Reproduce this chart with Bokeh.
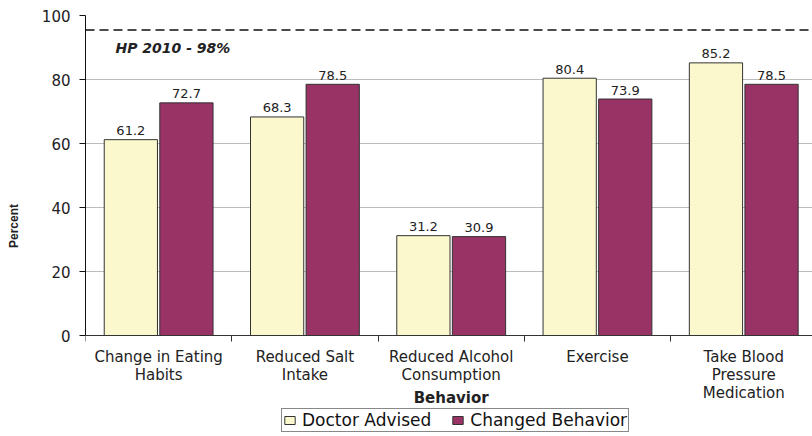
from bokeh.plotting import figure
from bokeh.models import (ColumnDataSource, Range1d, FixedTicker, Span, Label,
                          Legend, LegendItem)
from bokeh.core.properties import value
from bokeh.embed import file_html
from bokeh.resources import INLINE

categories = ["Change in Eating\nHabits", "Reduced Salt\nIntake",
              "Reduced Alcohol\nConsumption", "Exercise",
              "Take Blood\nPressure\nMedication"]
doctor_advised = [61.2, 68.3, 31.2, 80.4, 85.2]
changed_behavior = [72.7, 78.5, 30.9, 73.9, 78.5]
series_names = ["Doctor Advised", "Changed Behavior"]
y_ticks = [0, 20, 40, 60, 80, 100]
hp_target_line = 95.5
hp_text = "HP 2010 - 98%"

FONT = "DejaVu Sans"
VFONT = "Liberation Sans"
YELLOW = "#FBF8CE"
MAROON = "#993366"

centers = [i + 0.5 for i in range(len(categories))]
src_a = ColumnDataSource(dict(x=[c - 0.19 for c in centers], top=doctor_advised,
                              lab=[f"{v:.1f}" for v in doctor_advised]))
src_b = ColumnDataSource(dict(x=[c + 0.19 for c in centers], top=changed_behavior,
                              lab=[f"{v:.1f}" for v in changed_behavior]))

# frame spans down to the page bottom; the category axis sits at y = 0
p = figure(frame_width=727, frame_height=421, output_backend="svg",
           toolbar_location=None,
           x_range=Range1d(0, 4.97), y_range=Range1d(-31.5625, 100),
           min_border_left=85, min_border_top=15, min_border_right=0,
           min_border_bottom=0)
p.outline_line_color = None
p.xgrid.grid_line_color = None
p.ygrid.grid_line_color = "#BBBBBB"
p.ygrid.ticker = FixedTicker(ticks=y_ticks)

r_a = p.vbar(x="x", top="top", width=0.364, bottom=0, source=src_a,
             fill_color=YELLOW, line_color="#333333", line_width=1)
r_b = p.vbar(x="x", top="top", width=0.364, bottom=0, source=src_b,
             fill_color=MAROON, line_color="#333333", line_width=1)

for s in (src_a, src_b):
    p.text(x="x", y="top", text="lab", source=s, text_align="center",
           text_baseline="alphabetic", y_offset=-9, text_font=value(FONT),
           text_font_size="13px", text_color="#222222")

p.add_layout(Span(location=hp_target_line, dimension="width", line_color="#111111",
                  line_dash="9 5", line_width=1.5))
p.add_layout(Label(x=0.205, y=89.7, text=hp_text, text_font=FONT,
                   text_font_size="14px", text_font_style="bold italic",
                   text_baseline="middle", text_color="#222222"))

# x axis (fixed at y = 0)
xa = p.xaxis[0]
xa.fixed_location = 0
xa.ticker = FixedTicker(ticks=centers, minor_ticks=[0, 1, 2, 3, 4, 5])
xa.major_label_overrides = {c: lab for c, lab in zip(centers, categories)}
xa.major_tick_out = 0
xa.major_tick_in = 0
xa.minor_tick_out = 6
xa.minor_tick_in = 0
xa.minor_tick_line_color = "#333333"
xa.axis_line_color = "#333333"
xa.major_label_text_font = FONT
xa.major_label_text_font_size = "15px"
xa.major_label_text_line_height = 1.0
xa.major_label_text_color = "#222222"
xa.major_label_standoff = 6

p.add_layout(Label(x=2.5, y=-19.4, text="Behavior", text_font=FONT,
                   text_font_size="15px", text_font_style="bold",
                   text_align="center", text_baseline="middle",
                   text_color="#222222"))

# y axis
ya = p.yaxis[0]
ya.bounds = (0, 100)
ya.ticker = FixedTicker(ticks=y_ticks)
ya.major_tick_out = 6
ya.major_tick_in = 0
ya.minor_tick_line_color = None
ya.axis_line_color = "#111111"
ya.major_tick_line_color = "#111111"
ya.major_label_text_font = FONT
ya.major_label_text_font_size = "15px"
ya.major_label_text_color = "#222222"
ya.major_label_standoff = 9
ya.axis_label = "Percent"
ya.axis_label_text_font = VFONT
ya.axis_label_text_font_size = "12px"
ya.axis_label_text_font_style = "bold"
ya.axis_label_text_color = "#222222"
ya.axis_label_standoff = 18

legend = Legend(items=[LegendItem(label=series_names[0], renderers=[r_a]),
                       LegendItem(label=series_names[1], renderers=[r_b])],
                orientation="horizontal", location=(196, 4),
                label_text_font=FONT, label_text_font_size="17px",
                label_text_color="#111111", label_standoff=6, spacing=20,
                glyph_width=13, glyph_height=10, padding=1, margin=0,
                border_line_color="#111111", border_line_width=1,
                background_fill_alpha=1.0, label_height=14)
p.add_layout(legend, "center")

open("out.html", "w").write(file_html(p, INLINE))
